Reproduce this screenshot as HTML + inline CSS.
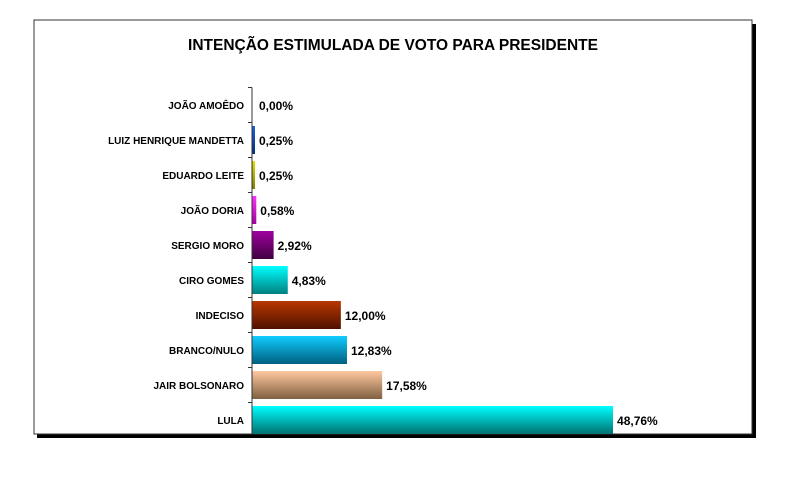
<!DOCTYPE html>
<html><head><meta charset="utf-8"><style>
body{margin:0;background:#fff;width:810px;height:475px;overflow:hidden;font-family:"Liberation Sans",Arial,sans-serif}
svg text{font-family:"Liberation Sans",Arial,sans-serif;font-weight:bold}
</style></head><body>
<svg id="c" width="810" height="475">
<defs></defs>
<rect x="37" y="24" width="719" height="414" fill="#000"/>
<rect x="34" y="20" width="718" height="414" fill="#fff" stroke="#333" stroke-width="1"/>
<text x="393" y="50" text-anchor="middle" font-size="15.5" fill="#000">INTENÇÃO ESTIMULADA DE VOTO PARA PRESIDENTE</text>
<g id="bars"></g>
</svg>
<script>
const categories=["JOÃO AMOÊDO","LUIZ HENRIQUE MANDETTA","EDUARDO LEITE","JOÃO DORIA","SERGIO MORO","CIRO GOMES","INDECISO","BRANCO/NULO","JAIR BOLSONARO","LULA"];
const values=[0.00,0.25,0.25,0.58,2.92,4.83,12.00,12.83,17.58,48.76];
const labels=["0,00%","0,25%","0,25%","0,58%","2,92%","4,83%","12,00%","12,83%","17,58%","48,76%"];
const colorsTop=["#888","#2060e0","#e0e000","#ff30ff","#a000a0","#00ffff","#b83800","#10ccff","#ffc8a0","#00ffff"];
const colorsBot=["#444","#003080","#808000","#a000a0","#400040","#008080","#501000","#006080","#806040","#007070"];
const x0=252, pxPer=7.404, yFirst=105, step=35, bh=28;
const xs=v=>x0+v*pxPer, yc=i=>yFirst+i*step;
const svg=document.getElementById('c'), defs=svg.querySelector('defs'), g=document.getElementById('bars');
const NS="http://www.w3.org/2000/svg";
categories.forEach((c,i)=>{
  const gr=document.createElementNS(NS,'linearGradient');
  gr.setAttribute('id','g'+i);gr.setAttribute('x1','0');gr.setAttribute('y1','0');gr.setAttribute('x2','0');gr.setAttribute('y2','1');
  gr.innerHTML=`<stop offset="0" stop-color="${colorsTop[i]}"/><stop offset="1" stop-color="${colorsBot[i]}"/>`;
  defs.appendChild(gr);
  const r=document.createElementNS(NS,'rect');
  r.setAttribute('x',x0);r.setAttribute('y',yc(i)-bh/2);
  r.setAttribute('width',Math.max(values[i]>0?3:0,xs(values[i])-x0));r.setAttribute('height',bh);
  r.setAttribute('fill','url(#g'+i+')');
  
  
  g.appendChild(r);
  const t=document.createElementNS(NS,'text');
  t.setAttribute('x',244);t.setAttribute('y',yc(i)+4);t.setAttribute('text-anchor','end');t.setAttribute('font-size','10');
  t.textContent=c;
  
  
  g.appendChild(t);
  const v=document.createElementNS(NS,'text');
  v.setAttribute('x',Math.max(xs(values[i]),x0+3)+4);v.setAttribute('y',yc(i)+5);v.setAttribute('font-size','12');
  v.textContent=labels[i];
  
  
  g.appendChild(v);
  const tk=document.createElementNS(NS,'line');
  tk.setAttribute('x1',x0-4);tk.setAttribute('x2',x0);tk.setAttribute('y1',yc(i)-step/2);tk.setAttribute('y2',yc(i)-step/2);tk.setAttribute('stroke','#333');
  
  
  g.appendChild(tk);
});
const ax=document.createElementNS(NS,'line');
ax.setAttribute('x1',x0);ax.setAttribute('x2',x0);ax.setAttribute('y1',yFirst-step/2);ax.setAttribute('y2',434);ax.setAttribute('stroke','#333');


g.appendChild(ax);
</script>
</body></html>
